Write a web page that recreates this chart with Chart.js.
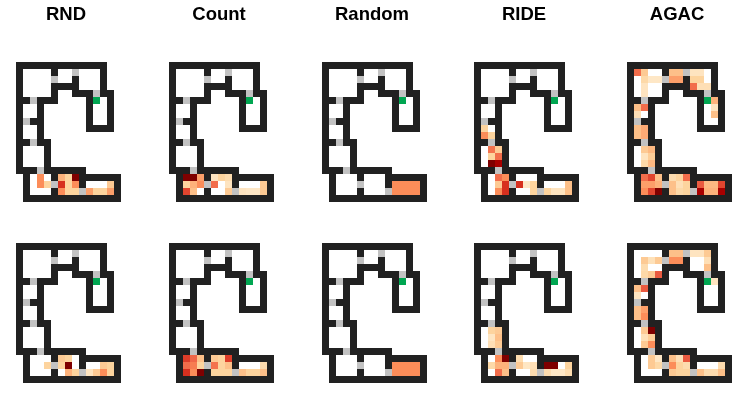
<!DOCTYPE html>
<html>
<head>
<meta charset="utf-8">
<title>Visitation heatmaps</title>
<script src="https://cdn.jsdelivr.net/npm/chart.js@4"></script>
<style>
    html, body { margin: 0; background: #fff; }
    canvas { position: absolute; }
</style>
</head>
<body>
<script>
// # wall, d door, g goal, . floor, space is outside the map
const mapRows = [
    "#############  ",
    "#....#..d...#  ",
    "#....d..#...#  ",
    "#....####...#  ",
    "#....#  ###d## ",
    "##d###    #g.# ",
    "#..#      #..# ",
    "#..#      #..# ",
    "#d##      #..# ",
    "#..#      #### ",
    "#..#           ",
    "##d##          ",
    "#...#          ",
    "#...#          ",
    "#...#          ",
    "###d######     ",
    " #...#...######",
    " #...d...#....#",
    " #...#...d....#",
    " ##############",
];

const columns = ["RND", "Count", "Random", "RIDE", "AGAC"];

// [row, col, value] for every visited cell
const rndTop = [
    [16,3,.5],[16,6,.4],[16,7,.25],[16,8,1],
    [17,3,.5],[17,4,.25],[17,6,.75],[17,7,.25],[17,8,.5],[17,13,.3],
    [18,6,.5],[18,7,.25],[18,8,.25],[18,10,.45],[18,11,.25],[18,12,.25],[18,13,.45],
];
const countTop = [
    [16,2,1],[16,3,1],[16,4,.45],[16,6,.15],[16,7,.25],[16,8,.2],
    [17,2,.25],[17,3,.4],[17,4,.5],[17,6,.6],[17,8,.15],[17,13,.3],
    [18,2,.7],[18,3,.35],[18,8,.3],[18,10,.15],[18,11,.13],[18,12,.13],[18,13,.3],
];
const randomTop = [
    [17,10,.5],[17,11,.5],[17,12,.5],[17,13,.5],
    [18,10,.5],[18,11,.5],[18,12,.5],[18,13,.5],
];
const rideTop = [
    [9,1,.25],[10,1,.5],[10,2,.25],
    [12,2,.58],[12,3,.3],[13,2,.25],[13,3,.6],[14,2,1],[14,3,.9],
    [16,3,.6],[16,4,.5],
    [17,3,.3],[17,4,.75],[17,6,.75],[17,7,.13],[17,8,.25],[17,13,.35],
    [18,3,.5],[18,4,.75],[18,8,.25],[18,10,.25],[18,11,.15],[18,12,.15],[18,13,.35],
];
const agacTop = [
    [1,1,.6],[1,2,.3],[1,6,.35],[1,7,.35],[1,9,.15],[1,10,.15],
    [2,2,.22],[2,3,.13],[2,4,.13],[2,6,.45],[2,7,.45],[2,9,.25],[2,10,.25],
    [3,2,.15],[3,9,.6],[3,10,.18],[3,11,.18],
    [4,2,.15],[5,12,.4],[6,1,.35],[6,2,.6],[6,12,.15],[7,1,.18],[7,12,.35],
    [9,1,.35],[9,2,.42],[10,1,.35],[10,2,.42],
    [12,2,.3],[12,3,.38],[13,2,.15],[13,3,.28],[14,2,.22],[14,3,.38],
    [16,2,.6],[16,3,.7],[16,4,.35],[16,6,.2],[16,7,.25],[16,8,.6],
    [17,2,.45],[17,3,.45],[17,4,.4],[17,6,.35],[17,7,.18],[17,8,.25],[17,10,.65],[17,11,.38],[17,12,.38],[17,13,.7],
    [18,2,.5],[18,3,.7],[18,4,1],[18,6,.35],[18,7,.22],[18,8,.25],[18,10,.9],[18,11,.4],[18,12,.4],[18,13,.9],
];

const rndBottom = [
    [16,6,.3],[16,7,.25],
    [17,4,.25],[17,6,.25],[17,7,1],[17,12,.3],[17,13,.25],
    [18,7,.4],[18,8,.25],[18,10,.15],[18,11,.3],[18,12,.5],[18,13,.25],
];
const countBottom = [
    [16,2,.72],[16,3,.62],[16,4,.35],[16,6,.3],[16,7,.25],[16,8,.72],
    [17,2,.6],[17,3,.55],[17,4,.25],[17,6,.58],[17,7,.25],[17,8,.35],[17,13,.2],
    [18,2,.75],[18,3,.5],[18,4,1],[18,6,.25],[18,7,.25],[18,8,.25],[18,10,.35],[18,11,.25],[18,12,.25],[18,13,.35],
];
const randomBottom = [
    [17,10,.5],[17,11,.5],[17,12,.5],[17,13,.5],
    [18,10,.5],[18,11,.5],[18,12,.5],[18,13,.5],
];
const rideBottom = [
    [12,2,.25],[12,3,.3],[13,2,.14],[13,3,.35],[14,2,.18],[14,3,.3],
    [16,3,.5],[16,4,1],[16,6,.2],
    [17,2,.22],[17,3,.4],[17,4,.4],[17,6,.3],[17,7,.14],[17,8,.18],[17,10,1],[17,11,1],[17,13,.25],
    [18,3,.6],[18,4,.35],[18,8,.2],[18,10,.2],[18,11,.13],[18,12,.13],[18,13,.2],
];
const agacBottom = [
    [1,6,.35],[1,7,.35],[1,9,.15],[1,10,.15],[1,11,.3],
    [2,2,.3],[2,3,.17],[2,4,.3],[2,6,.5],[2,7,.5],[2,11,.18],
    [3,2,.2],[3,11,.35],
    [4,2,.22],[4,3,.3],[4,4,.65],
    [5,12,.15],[6,1,.35],[6,2,.65],[7,1,.15],
    [9,1,.35],[9,2,.45],[10,1,.35],[10,2,.5],
    [12,2,.3],[12,3,1],[13,2,.17],[13,3,.28],[14,2,.3],[14,3,.5],
    [16,3,.3],[16,4,.13],[16,6,.35],[16,7,.18],[16,8,.65],
    [17,3,.3],[17,4,.22],[17,6,.5],[17,7,.25],[17,8,.2],[17,13,.2],
    [18,6,.3],[18,7,.25],[18,8,.25],[18,10,.35],[18,11,.2],[18,12,.2],[18,13,.35],
];

const heatTop = [rndTop, countTop, randomTop, rideTop, agacTop];
const heatBottom = [rndBottom, countBottom, randomBottom, rideBottom, agacBottom];

const orRd = ["#fff7ec", "#fee8c8", "#fdd49e", "#fdbb84", "#fc8d59", "#ef6548", "#d7301f", "#b30000", "#7f0000"];
const cellColors = { "#": "#212121", d: "#c2c2c2", g: "#00a651" };

function heatColor(v) {
    let p = v * 8;
    let i = Math.min(Math.floor(p), 7);
    let a = Chart.helpers.color(orRd[i]);
    // mix() takes the weight of the colour it is called on
    return a.mix(Chart.helpers.color(orRd[i + 1]), 1 - (p - i)).rgbString();
}

function makePanel(heat, left, top, title) {
    const padX = 20;
    const plotW = 105;
    const plotH = 140;
    const titleShift = 5; // empty axis width, moves the title 2.5px left of the map
    let canvas = document.createElement("canvas");
    let topSpace = title ? 62 : 8;
    canvas.width = 145;
    canvas.height = topSpace + plotH + 6;
    canvas.style.left = (left - padX) + "px";
    canvas.style.top = (title ? 0 : top - 8) + "px";
    document.body.appendChild(canvas);

    let lookup = {};
    heat.forEach(c => { lookup[c[0] + "," + c[1]] = c[2]; });

    let labels = Array.from(mapRows[0], (_, i) => String(i));
    let datasets = mapRows.map((row, r) => {
        let data = [];
        let colors = [];
        Array.from(row).forEach((ch, c) => {
            let v = lookup[r + "," + c];
            let fill = v ? heatColor(v) : cellColors[ch];
            data.push(fill ? [r, r + 1] : null);
            colors.push(fill || "#ffffff");
        });
        return {
            data: data,
            backgroundColor: colors,
            grouped: false,
            barPercentage: 1,
            categoryPercentage: 1,
            inflateAmount: 0,
        };
    });

    return new Chart(canvas.getContext("2d"), {
        type: "bar",
        data: { labels: labels, datasets: datasets },
        options: {
            responsive: false,
            animation: false,
            layout: {
                padding: {
                    left: padX - titleShift,
                    right: canvas.width - padX - plotW,
                    top: title ? 0 : topSpace,
                    bottom: canvas.height - topSpace - plotH,
                },
            },
            scales: {
                x: { display: false },
                y: {
                    min: 0,
                    max: mapRows.length,
                    reverse: true,
                    ticks: { display: false },
                    grid: { display: false },
                    border: { display: false },
                    afterFit: function (scale) { scale.width = titleShift; },
                },
            },
            plugins: {
                legend: { display: false },
                tooltip: { enabled: false },
                title: {
                    display: !!title,
                    text: title,
                    color: "#000",
                    font: { family: "Liberation Sans", size: 18.5, weight: "bold", lineHeight: 1.2 },
                    padding: { top: 3.5, bottom: topSpace - 25.7 },
                },
            },
        },
    });
}

const panelLefts = [16, 169, 322, 474, 627];
columns.forEach((name, i) => {
    makePanel(heatTop[i], panelLefts[i], 0, name);
    makePanel(heatBottom[i], panelLefts[i], 243, "");
});
</script>
</body>
</html>
